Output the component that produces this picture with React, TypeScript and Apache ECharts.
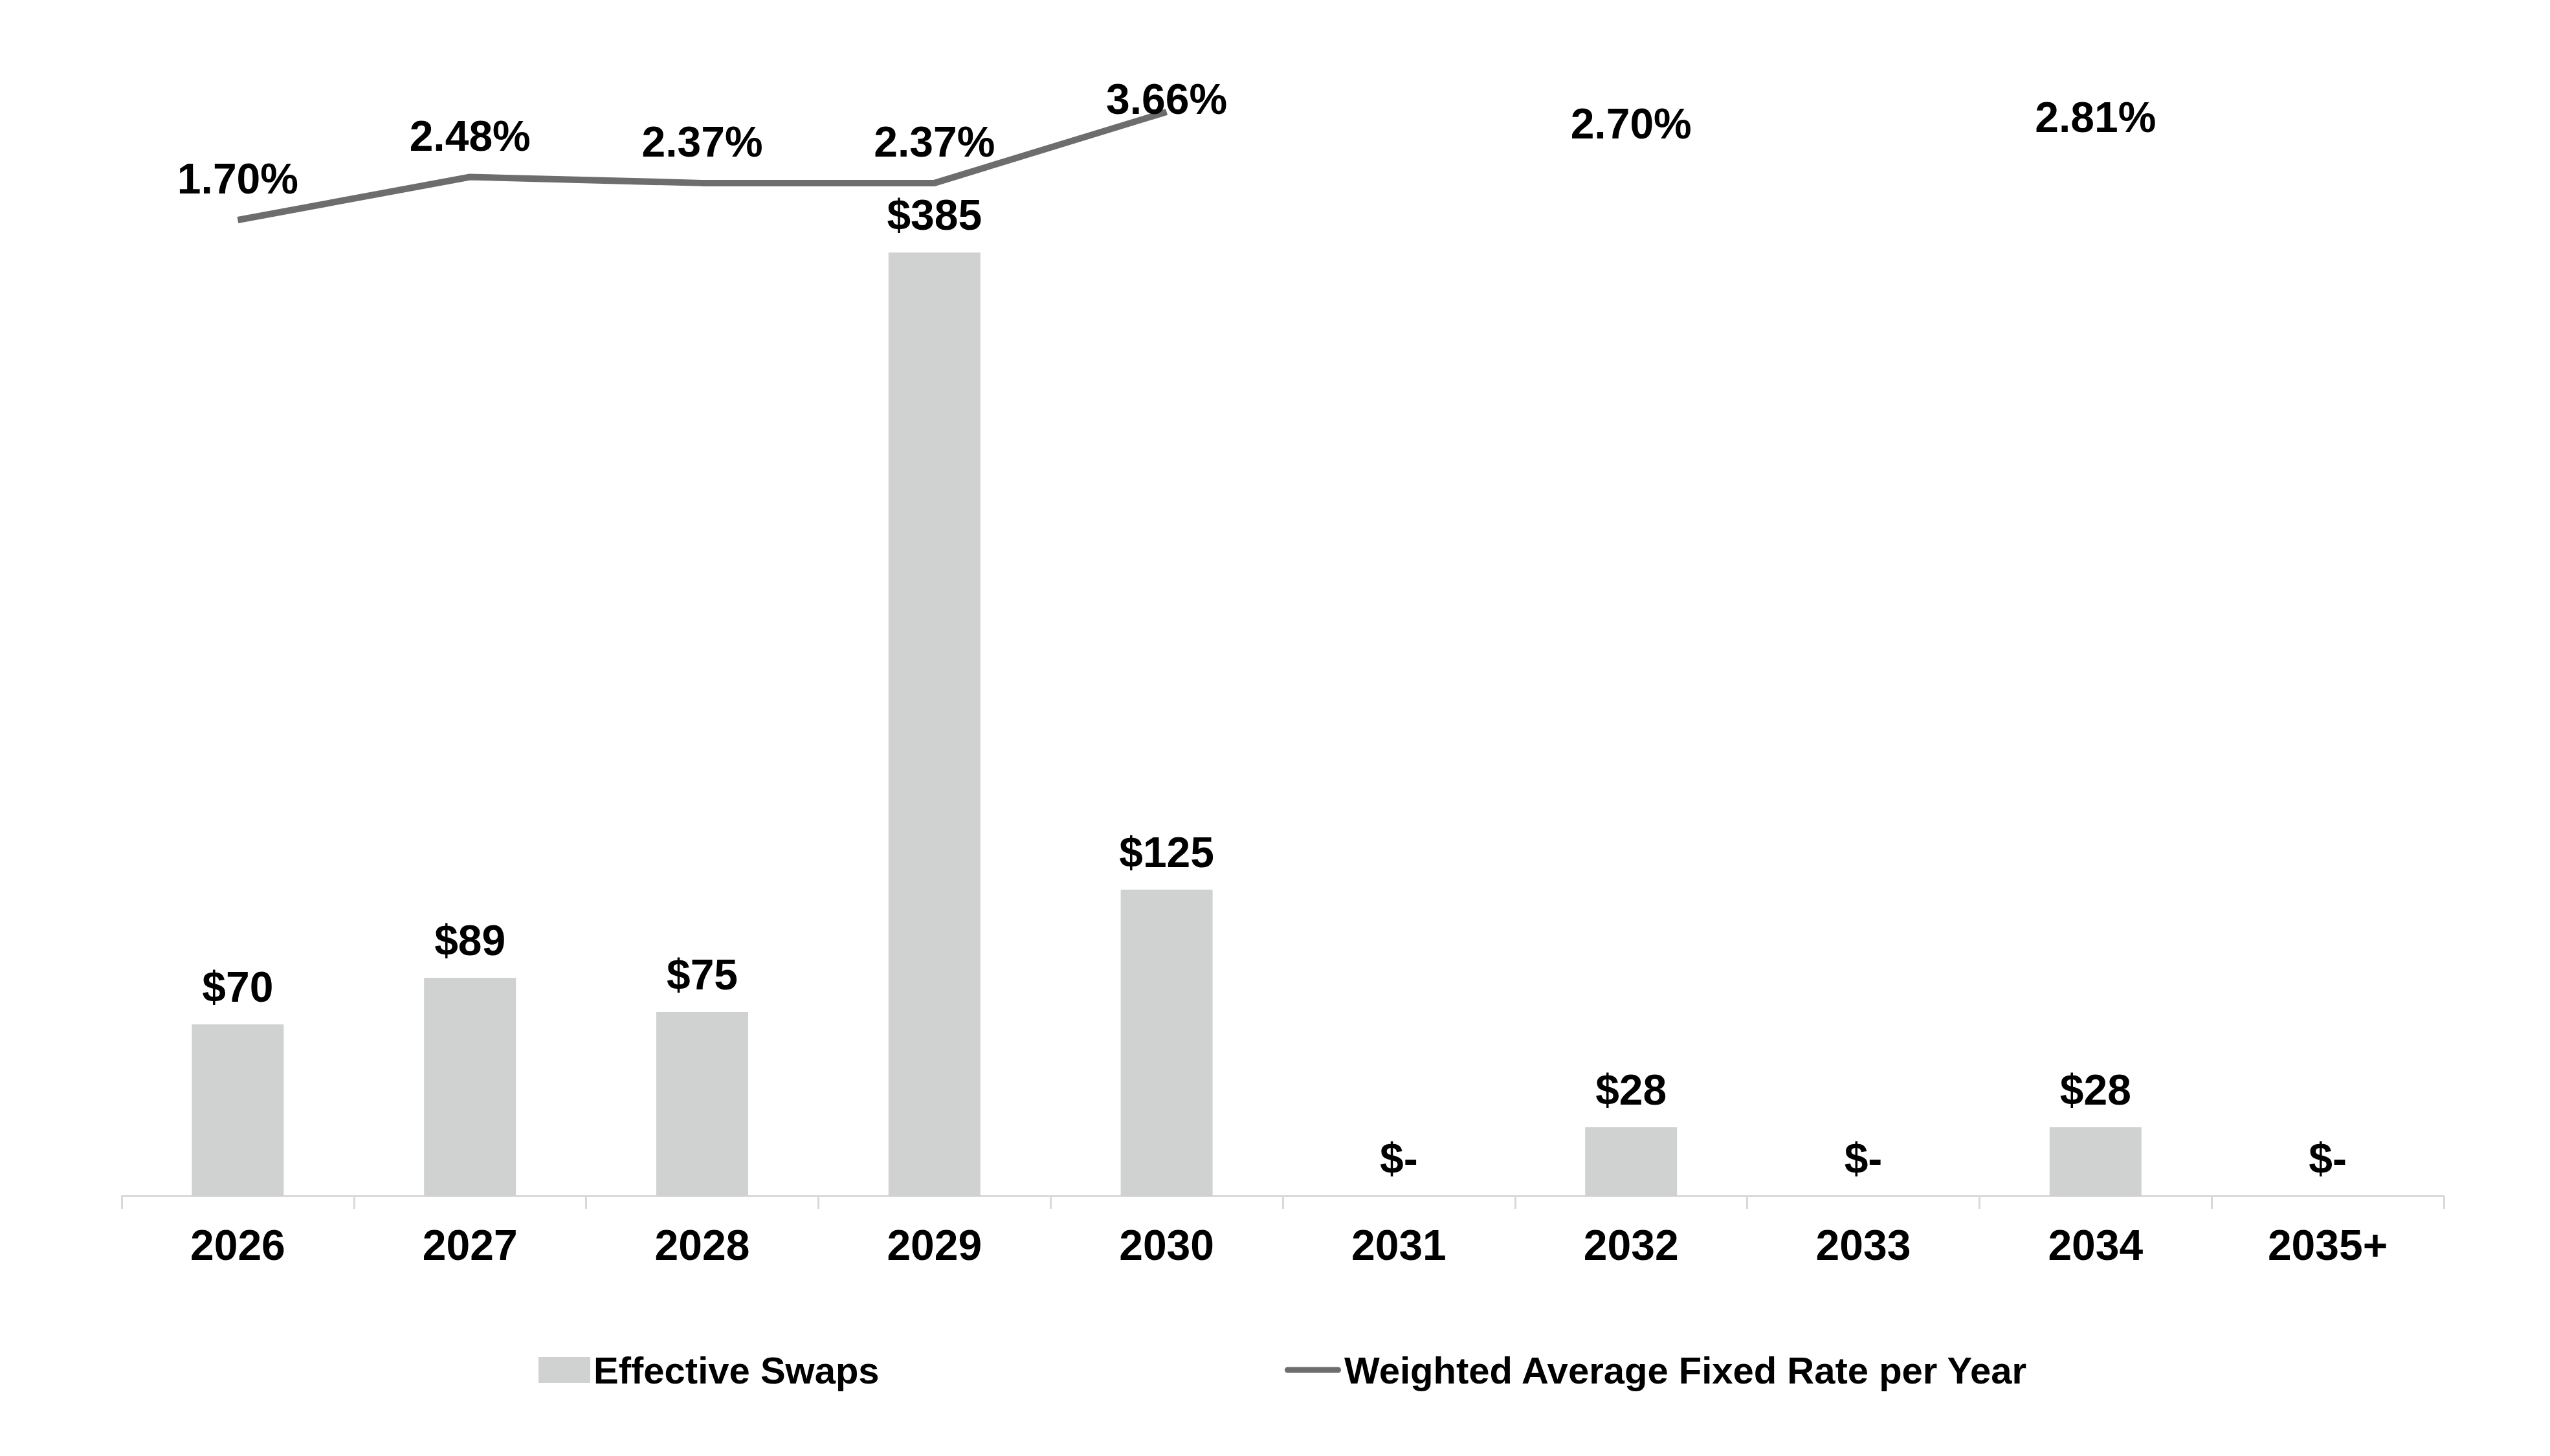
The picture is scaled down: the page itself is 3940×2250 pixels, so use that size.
import React, { useEffect, useRef } from "react";
import * as echarts from "echarts";

const categories = ["2026", "2027", "2028", "2029", "2030", "2031", "2032", "2033", "2034", "2035+"];
const swapValues = [70, 89, 75, 385, 125, 0, 28, 0, 28, 0];
const rateValues: (number | null)[] = [1.7, 2.48, 2.37, 2.37, 3.66, null, 2.7, null, 2.81, null];
const barName = "Effective Swaps";
const lineName = "Weighted Average Fixed Rate per Year";

const FONT = "'Liberation Sans', Arial, sans-serif";
const LINE_ICON = "path://M4.5,0 L82.5,0 A4.5,4.5 0 0 1 82.5,9 L4.5,9 A4.5,4.5 0 0 1 4.5,0 Z";

export default function App() {
  const ref = useRef<HTMLDivElement>(null);
  useEffect(() => {
    if (!ref.current) return;
    const chart = echarts.init(ref.current, null, { renderer: "svg" });
    const lineData = rateValues.map((v, i) =>
      v === null ? null : i === 4 ? { value: v, label: { offset: [0, 44] } } : v
    );
    const legendText = { fontFamily: FONT, fontWeight: "bold", fontSize: 58, color: "#000", lineHeight: 70 };
    chart.setOption({
      animation: false,
      backgroundColor: "#ffffff",
      textStyle: { fontFamily: FONT },
      grid: { left: 188, right: 164, top: 144, bottom: 402 },
      legend: [
        {
          left: 832,
          top: 2082,
          padding: 0,
          itemWidth: 80,
          itemHeight: 40,
          selectedMode: false,
          data: [{ name: barName, icon: "rect", itemStyle: { color: "#d0d2d1" } }],
          textStyle: legendText,
        },
        {
          left: 1985,
          top: 2082,
          padding: 0,
          itemWidth: 87,
          itemHeight: 9,
          selectedMode: false,
          data: [{ name: lineName, icon: LINE_ICON, itemStyle: { color: "#6d6d6d" } }],
          textStyle: legendText,
        },
      ],
      xAxis: {
        type: "category",
        data: categories,
        axisLine: { show: true, lineStyle: { color: "#d9d9d9", width: 3 } },
        axisTick: { show: true, length: 20, lineStyle: { color: "#d9d9d9", width: 3 } },
        axisLabel: { fontFamily: FONT, fontWeight: "bold", fontSize: 66, color: "#000", margin: 43 },
        splitLine: { show: false },
      },
      yAxis: [
        { type: "value", min: 0, max: 450, show: false, splitLine: { show: false } },
        { type: "value", min: -16, max: 4, show: false, splitLine: { show: false } },
      ],
      series: [
        {
          name: barName,
          type: "bar",
          data: swapValues,
          barWidth: 142,
          yAxisIndex: 0,
          itemStyle: { color: "#d0d2d1" },
          label: {
            show: true,
            position: "top",
            distance: 25,
            fontFamily: FONT,
            fontWeight: "bold",
            fontSize: 66,
            color: "#000",
            formatter: (p: any) => (p.value === 0 ? "$-" : "$" + p.value),
          },
          emphasis: { disabled: true },
        },
        {
          name: lineName,
          type: "line",
          data: lineData,
          yAxisIndex: 1,
          connectNulls: false,
          symbol: "circle",
          symbolSize: 2,
          showSymbol: true,
          itemStyle: { color: "rgba(0,0,0,0)" },
          lineStyle: { color: "#6d6d6d", width: 10 },
          label: {
            show: true,
            position: "top",
            distance: 30,
            fontFamily: FONT,
            fontWeight: "bold",
            fontSize: 66,
            color: "#000",
            formatter: (p: any) => Number(p.value).toFixed(2) + "%",
          },
          emphasis: { disabled: true },
          z: 3,
        },
      ],
    });
    return () => chart.dispose();
  }, []);
  return (
    <div
      ref={ref}
      style={{ position: "absolute", left: 0, top: 0, width: 3940, height: 2250, background: "#fff" }}
    />
  );
}
